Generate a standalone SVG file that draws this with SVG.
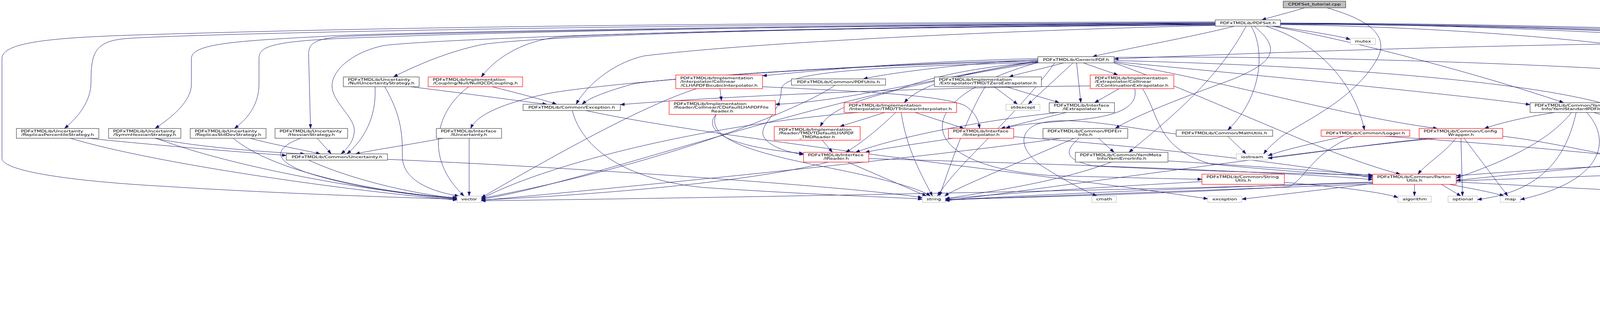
<svg xmlns="http://www.w3.org/2000/svg" width="4934" height="827" viewBox="0 0 4934 827">
<style>
.t{font-family:"DejaVu Sans","Liberation Sans",sans-serif;font-size:9.6px;fill:#000}
.m{text-anchor:middle}
.n{fill:#fff;stroke:#404040;stroke-width:1.2}
.r{fill:#fff;stroke:#ff0000;stroke-width:1.2}
.x{fill:#fff;stroke:#bfbfbf;stroke-width:1.2}
.root{fill:#bfbfbf;stroke:#404040;stroke-width:1.2}
#edges path{fill:none;stroke:#191970;stroke-width:1;marker-end:url(#a)}
</style>
<defs>
<marker id="a" viewBox="0 0 11 8" refX="11" refY="4" markerWidth="11" markerHeight="8" orient="auto" markerUnits="userSpaceOnUse"><path d="M0,0L11,4L0,8z" fill="#191970" stroke="#191970" stroke-width="0.5"/></marker>
</defs>
<rect width="4934" height="827" fill="#fff"/>
<g id="edges">
<path d="M3340,20 C3300,32 3260,42 3230,51"/>
<path d="M3397,20 C3520,55 3560,100 3520,160 C3460,260 3320,320 3280,350 C3262,365 3245,380 3235,394"/>
<path d="M3160,67 C3050,95 2880,125 2797,145"/>
<path d="M3262,67 C3350,80 3420,90 3457,101"/>
<path d="M3278,60 C3700,62 4200,85 4378,101"/>
<path d="M3111,58 C1500,62 450,88 320,99 C240,106 233,140 233,210 C233,260 200,300 165,329"/>
<path d="M3111,56 C1500,59 800,76 400,88 C150,95 5,105 5,150 L5,405 C5,440 200,465 420,477 C700,495 1000,505 1170,510"/>
<path d="M3111,59 C2000,63 900,86 830,93 C600,105 490,112 490,150 L490,215 C490,260 440,300 397,329"/>
<path d="M3111,60 C2000,64 1100,88 1000,94 C700,102 663,115 663,150 L663,215 C663,262 640,300 600,329"/>
<path d="M3111,61 C2000,66 950,86 860,95 C800,102 790,115 790,140 L795,329"/>
<path d="M3111,62 C2000,67 1100,100 980,117 C900,135 850,180 850,220 C850,260 907,300 907,333 C907,360 890,380 873,394"/>
<path d="M3111,63 C2000,70 1400,92 1240,113 C1150,130 1060,170 1007,197"/>
<path d="M3111,64 C2000,72 1500,88 1420,96 C1320,110 1260,160 1232,197"/>
<path d="M3111,65 C2500,80 1900,112 1650,143 C1570,160 1500,220 1475,267"/>
<path d="M3203,67 C3240,130 3230,250 3143,333"/>
<path d="M3190,67 C3120,200 3000,300 2890,390"/>
<path d="M3210,67 C3290,130 3250,165 3150,205 C3000,260 2900,300 2855,329"/>
<path d="M3240,67 C3380,110 3470,220 3493,333"/>
<path d="M3255,67 C3500,110 3850,210 4003,263"/>
<path d="M3278,62 C3800,64 4250,80 4310,95 C4338,108 4340,150 4340,217 C4340,260 4370,300 4393,329"/>
<path d="M3278,63 C3800,70 4240,120 4275,140 C4288,150 4288,200 4288,394"/>
<path d="M3278,61 C4000,64 4600,95 4705,112 C4740,125 4740,150 4740,210 C4740,262 4680,300 4632,329"/>
<path d="M3278,60 C4000,62 4650,92 4760,106 C4792,116 4792,140 4792,200 L4792,329"/>
<path d="M3278,59 C4000,60 4800,90 4885,106 C4913,116 4913,140 4913,200 L4913,300 C4913,340 4880,370 4853,394"/>
<path d="M4378,110 C3800,113 3100,140 2852,151"/>
<path d="M4460,114 L4413,329"/>
<path d="M4466,114 L4593,329"/>
<path d="M4472,114 L4770,329"/>
<path d="M2723,161 C2660,178 2610,188 2583,197"/>
<path d="M2747,161 L2632,267"/>
<path d="M2756,161 L2767,263"/>
<path d="M2773,161 L2862,192"/>
<path d="M2657,153 C2450,163 2260,190 2210,202"/>
<path d="M2657,150 C2300,158 2050,185 1952,194"/>
<path d="M2657,156 C2400,200 2150,262 1985,267"/>
<path d="M2657,158 C2500,180 2360,210 2315,263"/>
<path d="M2657,159 C2400,180 2320,225 2270,238 C2190,258 2120,285 2100,324"/>
<path d="M2657,160 C2200,172 2000,185 2000,230 C2000,290 1940,320 1955,350 C1970,375 2010,388 2057,396"/>
<path d="M2657,157 C2000,170 1500,220 1400,240 C1300,262 1222,290 1205,329"/>
<path d="M2657,154 C2200,165 1700,200 1620,215 C1550,235 1510,250 1490,267"/>
<path d="M2657,161 C2100,240 1500,470 1232,510"/>
<path d="M2700,161 C2600,300 2450,420 2400,502"/>
<path d="M2852,155 C3500,170 4000,220 4150,280 C4250,330 4280,370 4285,394"/>
<path d="M2852,158 C3300,200 3800,250 3917,268"/>
<path d="M2852,160 C3100,200 3450,300 3680,329"/>
<path d="M2852,161 C3100,250 3400,400 3585,446"/>
<path d="M2852,147 C3500,140 4500,180 4800,240 C4960,300 4960,400 4850,450 C4750,490 4650,505 4597,512"/>
<path d="M2657,160 C2300,260 2350,430 2700,450 C2900,455 3000,458 3077,459"/>
<path d="M1843,227 L1847,258"/>
<path d="M1952,222 C2150,232 2400,240 2470,270 C2500,290 2505,310 2508,329"/>
<path d="M1783,227 C1650,270 1450,380 1232,506"/>
<path d="M1833,293 C1800,330 1850,375 2057,393"/>
<path d="M1833,293 C1810,350 1900,385 2100,425 C2250,455 2350,480 2382,502"/>
<path d="M2138,218 C2050,280 1700,420 1232,508"/>
<path d="M2293,288 C2250,330 2200,370 2165,390"/>
<path d="M2265,288 L2150,324"/>
<path d="M2343,288 L2468,329"/>
<path d="M2307,288 C2320,380 2360,450 2387,502"/>
<path d="M2197,288 C1800,320 1400,420 1232,509"/>
<path d="M2105,359 L2131,390"/>
<path d="M2575,222 L2712,263"/>
<path d="M2545,222 L2605,267"/>
<path d="M2522,222 C2480,290 2440,400 2405,502"/>
<path d="M2730,288 L2562,329"/>
<path d="M2710,288 C2500,310 2300,350 2190,390"/>
<path d="M2865,227 L2802,263"/>
<path d="M2791,220 C2300,225 1800,250 1588,268"/>
<path d="M2905,227 C2920,300 2780,305 2700,312 C2620,318 2590,322 2575,329"/>
<path d="M2925,227 C2970,300 2960,380 3100,420 C3300,440 3450,448 3514,452"/>
<path d="M3011,343 C2900,330 2720,290 2650,320 C2610,340 2610,380 2660,420 C2720,460 2780,490 2808,502"/>
<path d="M2440,354 C2350,368 2260,380 2215,390"/>
<path d="M2595,350 C3000,380 3400,432 3514,456"/>
<path d="M2170,415 L2372,502"/>
<path d="M2120,415 C1900,470 1500,500 1232,512"/>
<path d="M2224,406 C2700,420 3300,440 3514,460"/>
<path d="M2812,354 L2852,390"/>
<path d="M2750,354 C2600,420 2450,480 2418,502"/>
<path d="M2716,354 C2400,400 1600,480 1232,513"/>
<path d="M2762,354 C2720,390 2730,410 2800,425 C3100,440 3400,446 3514,448"/>
<path d="M2845,415 C2700,470 2500,495 2420,509"/>
<path d="M2990,412 C3200,425 3450,442 3514,450"/>
<path d="M3143,349 L3190,394"/>
<path d="M3440,349 C3350,370 3280,385 3246,399"/>
<path d="M3465,349 C3360,390 3340,460 3300,478 C3000,496 2600,506 2420,511"/>
<path d="M3545,349 C3800,365 4050,390 4157,400"/>
<path d="M3727,354 C3700,390 3650,420 3630,446"/>
<path d="M3740,354 L3744,502"/>
<path d="M3748,354 L3860,502"/>
<path d="M3680,354 C3300,390 2700,480 2420,514"/>
<path d="M3660,354 C3500,370 3300,400 3246,405"/>
<path d="M3847,349 C3950,360 4100,395 4157,404"/>
<path d="M3980,288 C3900,300 3830,318 3800,329"/>
<path d="M4023,288 C3950,380 3800,430 3728,456"/>
<path d="M4035,288 C4010,400 3950,490 3782,511"/>
<path d="M4062,288 C4120,350 4120,460 3892,511"/>
<path d="M4080,288 C4160,310 4250,360 4280,394"/>
<path d="M4365,354 L4207,394"/>
<path d="M4385,354 L4305,394"/>
<path d="M4425,354 C4500,420 4540,470 4562,502"/>
<path d="M4440,354 C4500,370 4540,385 4570,394"/>
<path d="M4455,354 C4550,375 4650,388 4705,396"/>
<path d="M4470,354 C4600,370 4750,386 4800,396"/>
<path d="M4405,354 C4390,400 4360,415 4300,418 C4000,428 3800,445 3728,450"/>
<path d="M4413,354 C4410,410 4380,440 4300,443 C3800,460 3000,490 2420,512"/>
<path d="M4596,354 L4595,394"/>
<path d="M4630,354 L4718,394"/>
<path d="M4648,354 L4805,394"/>
<path d="M4615,354 C4650,400 4625,460 4580,502"/>
<path d="M4540,354 C4450,370 4380,385 4334,396"/>
<path d="M4530,354 C4400,362 4260,380 4218,396"/>
<path d="M4578,354 C4450,400 4000,432 3728,462"/>
<path d="M4750,354 L4620,394"/>
<path d="M4778,354 L4745,394"/>
<path d="M4800,354 L4825,394"/>
<path d="M4825,354 C4900,380 4920,420 4800,460 C4700,490 4620,505 4597,510"/>
<path d="M4730,354 C4550,366 4400,388 4334,400"/>
<path d="M3621,472 L3621,502"/>
<path d="M3690,472 L3740,502"/>
<path d="M3710,472 C3780,485 3830,495 3850,502"/>
<path d="M3728,466 C4000,480 4400,500 4541,512"/>
<path d="M3514,466 C3100,480 2600,500 2420,513"/>
<path d="M3514,468 C2800,490 1600,510 1232,514"/>
<path d="M3514,470 C3350,490 3220,505 3179,510"/>
<path d="M3077,465 C2800,480 2500,500 2420,510"/>
<path d="M3288,467 C3450,480 3550,495 3579,506"/>
<path d="M1500,283 C1800,350 2700,450 3092,509"/>
<path d="M1465,283 C1490,380 1600,460 1800,480 C2100,500 2300,505 2361,510"/>
<path d="M790,410 C900,460 1050,495 1170,508"/>
<path d="M992,408 C1500,430 2200,480 2361,506"/>
<path d="M225,354 C400,372 600,388 733,398"/>
<path d="M180,354 C400,420 900,490 1170,512"/>
<path d="M395,354 C500,375 650,388 780,394"/>
<path d="M400,354 C600,430 950,490 1170,510"/>
<path d="M640,354 C700,370 780,385 820,394"/>
<path d="M597,354 C700,440 950,490 1170,508"/>
<path d="M812,354 L848,394"/>
<path d="M770,354 C700,380 700,410 780,440 C900,480 1050,500 1170,506"/>
<path d="M960,222 C965,300 930,360 888,394"/>
<path d="M985,222 C1030,300 1030,350 1030,400 C1030,460 1100,490 1175,502"/>
<path d="M1050,222 C1200,240 1300,255 1400,267"/>
<path d="M1260,222 C1330,240 1390,255 1425,267"/>
<path d="M1200,222 C1120,280 1080,400 1188,502"/>
<path d="M1135,354 C1050,370 950,385 910,394"/>
<path d="M1201,354 L1201,502"/>
</g>
<g id="n-cpp"><rect class="root" x="3285" y="3" width="160" height="17"/><text class="t m" transform="matrix(1.34 0 0 1 3365 0)" y="14.5">CPDFSet_tutorial.cpp</text></g>
<g id="n-pdfset"><rect class="n" x="3111" y="51" width="167" height="16"/><text class="t m" transform="matrix(1.34 0 0 1 3194.5 0)" y="62.5">PDFxTMDLib/PDFSet.h</text></g>
<g id="n-mutex"><rect class="x" x="3457" y="98" width="64" height="16"/><text class="t m" transform="matrix(1.34 0 0 1 3489 0)" y="109.5">mutex</text></g>
<g id="n-factory"><rect class="n" x="4378" y="98" width="167" height="16"/><text class="t m" transform="matrix(1.34 0 0 1 4461.5 0)" y="109.5">PDFxTMDLib/Factory.h</text></g>
<g id="n-generic"><rect class="n" x="2657" y="145" width="195" height="16"/><text class="t m" transform="matrix(1.34 0 0 1 2754.5 0)" y="156.5">PDFxTMDLib/GenericPDF.h</text></g>
<g id="n-nullunc"><rect class="n" x="879" y="197" width="194" height="25"/><text class="t" transform="matrix(1.34 0 0 1 890.5 0)" y="207.5">PDFxTMDLib/Uncertainty</text><text class="t m" transform="matrix(1.34 0 0 1 976 0)" y="216.5">/NullUncertaintyStrategy.h</text></g>
<g id="n-nullqcd"><rect class="r" x="1096" y="197" width="242" height="25"/><text class="t" transform="matrix(1.34 0 0 1 1107.5 0)" y="207.5">PDFxTMDLib/Implementation</text><text class="t m" transform="matrix(1.34 0 0 1 1217 0)" y="216.5">/Coupling/Null/NullQCDCoupling.h</text></g>
<g id="n-exception"><rect class="n" x="1339" y="267" width="249" height="16"/><text class="t m" transform="matrix(1.34 0 0 1 1463.5 0)" y="278.5">PDFxTMDLib/Common/Exception.h</text></g>
<g id="n-clhapdf"><rect class="r" x="1730" y="192" width="222" height="35"/><text class="t" transform="matrix(1.34 0 0 1 1741.5 0)" y="203.5">PDFxTMDLib/Implementation</text><text class="t" transform="matrix(1.34 0 0 1 1741.5 0)" y="212.5">/Interpolator/Collinear</text><text class="t m" transform="matrix(1.34 0 0 1 1841 0)" y="221.6">/CLHAPDFBicubicInterpolator.h</text></g>
<g id="n-cdefault"><rect class="r" x="1713" y="258" width="272" height="35"/><text class="t" transform="matrix(1.34 0 0 1 1724.5 0)" y="269.5">PDFxTMDLib/Implementation</text><text class="t" transform="matrix(1.34 0 0 1 1724.5 0)" y="278.5">/Reader/Collinear/CDefaultLHAPDFFile</text><text class="t m" transform="matrix(1.34 0 0 1 1849 0)" y="287.6">Reader.h</text></g>
<g id="n-pdfutils"><rect class="n" x="2026" y="202" width="241" height="16"/><text class="t m" transform="matrix(1.34 0 0 1 2146.5 0)" y="213.5">PDFxTMDLib/Common/PDFUtils.h</text></g>
<g id="n-tzero"><rect class="n" x="2392" y="197" width="274" height="25"/><text class="t" transform="matrix(1.34 0 0 1 2403.5 0)" y="207.5">PDFxTMDLib/Implementation</text><text class="t m" transform="matrix(1.34 0 0 1 2529 0)" y="216.5">/Extrapolator/TMD/TZeroExtrapolator.h</text></g>
<g id="n-ttri"><rect class="r" x="2161" y="263" width="288" height="25"/><text class="t" transform="matrix(1.34 0 0 1 2172.5 0)" y="273.5">PDFxTMDLib/Implementation</text><text class="t m" transform="matrix(1.34 0 0 1 2305 0)" y="282.5">/Interpolator/TMD/TTrilinearInterpolator.h</text></g>
<g id="n-tdefault"><rect class="r" x="1982" y="324" width="220" height="35"/><text class="t" transform="matrix(1.34 0 0 1 1993.5 0)" y="335.5">PDFxTMDLib/Implementation</text><text class="t" transform="matrix(1.34 0 0 1 1993.5 0)" y="344.5">/Reader/TMD/TDefaultLHAPDF</text><text class="t m" transform="matrix(1.34 0 0 1 2092 0)" y="353.6">_TMDReader.h</text></g>
<g id="n-ireader"><rect class="r" x="2057" y="390" width="167" height="25"/><text class="t" transform="matrix(1.34 0 0 1 2068.5 0)" y="400.5">PDFxTMDLib/Interface</text><text class="t m" transform="matrix(1.34 0 0 1 2140.5 0)" y="409.5">/IReader.h</text></g>
<g id="n-stdexcept"><rect class="x" x="2575" y="267" width="87" height="16"/><text class="t m" transform="matrix(1.34 0 0 1 2618.5 0)" y="278.5">stdexcept</text></g>
<g id="n-iextrap"><rect class="n" x="2686" y="263" width="167" height="25"/><text class="t" transform="matrix(1.34 0 0 1 2697.5 0)" y="273.5">PDFxTMDLib/Interface</text><text class="t m" transform="matrix(1.34 0 0 1 2769.5 0)" y="282.5">/IExtrapolator.h</text></g>
<g id="n-ccont"><rect class="r" x="2791" y="192" width="214" height="35"/><text class="t" transform="matrix(1.34 0 0 1 2802.5 0)" y="203.5">PDFxTMDLib/Implementation</text><text class="t" transform="matrix(1.34 0 0 1 2802.5 0)" y="212.5">/Extrapolator/Collinear</text><text class="t m" transform="matrix(1.34 0 0 1 2898 0)" y="221.6">/CContinuationExtrapolator.h</text></g>
<g id="n-iinterp"><rect class="r" x="2428" y="329" width="167" height="25"/><text class="t" transform="matrix(1.34 0 0 1 2439.5 0)" y="339.5">PDFxTMDLib/Interface</text><text class="t m" transform="matrix(1.34 0 0 1 2511.5 0)" y="348.5">/IInterpolator.h</text></g>
<g id="n-pdferr"><rect class="n" x="2670" y="329" width="217" height="25"/><text class="t" transform="matrix(1.34 0 0 1 2681.5 0)" y="339.5">PDFxTMDLib/Common/PDFErr</text><text class="t m" transform="matrix(1.34 0 0 1 2778.5 0)" y="348.5">Info.h</text></g>
<g id="n-yamlerr"><rect class="n" x="2753" y="390" width="237" height="25"/><text class="t" transform="matrix(1.34 0 0 1 2764.5 0)" y="400.5">PDFxTMDLib/Common/YamlMeta</text><text class="t m" transform="matrix(1.34 0 0 1 2871.5 0)" y="409.5">Info/YamlErrorInfo.h</text></g>
<g id="n-mathutils"><rect class="n" x="3011" y="333" width="247" height="16"/><text class="t m" transform="matrix(1.34 0 0 1 3134.5 0)" y="344.5">PDFxTMDLib/Common/MathUtils.h</text></g>
<g id="n-iostream"><rect class="x" x="3165" y="394" width="81" height="16"/><text class="t m" transform="matrix(1.34 0 0 1 3205.5 0)" y="405.5">iostream</text></g>
<g id="n-stringutils"><rect class="r" x="3077" y="446" width="211" height="26"/><text class="t" transform="matrix(1.34 0 0 1 3088.5 0)" y="456.5">PDFxTMDLib/Common/String</text><text class="t m" transform="matrix(1.34 0 0 1 3182.5 0)" y="465.5">Utils.h</text></g>
<g id="n-exceptionstd"><rect class="x" x="3092" y="502" width="87" height="16"/><text class="t m" transform="matrix(1.34 0 0 1 3135.5 0)" y="513.5">exception</text></g>
<g id="n-logger"><rect class="r" x="3382" y="333" width="227" height="16"/><text class="t m" transform="matrix(1.34 0 0 1 3495.5 0)" y="344.5">PDFxTMDLib/Common/Logger.h</text></g>
<g id="n-config"><rect class="r" x="3633" y="329" width="214" height="25"/><text class="t" transform="matrix(1.34 0 0 1 3644.5 0)" y="339.5">PDFxTMDLib/Common/Config</text><text class="t m" transform="matrix(1.34 0 0 1 3740 0)" y="348.5">Wrapper.h</text></g>
<g id="n-parton"><rect class="r" x="3514" y="446" width="214" height="26"/><text class="t" transform="matrix(1.34 0 0 1 3525.5 0)" y="456.5">PDFxTMDLib/Common/Parton</text><text class="t m" transform="matrix(1.34 0 0 1 3621 0)" y="465.5">Utils.h</text></g>
<g id="n-algorithm"><rect class="x" x="3579" y="502" width="85" height="16"/><text class="t m" transform="matrix(1.34 0 0 1 3621.5 0)" y="513.5">algorithm</text></g>
<g id="n-optional"><rect class="x" x="3707" y="502" width="75" height="16"/><text class="t m" transform="matrix(1.34 0 0 1 3744.5 0)" y="513.5">optional</text></g>
<g id="n-map"><rect class="x" x="3841" y="502" width="51" height="16"/><text class="t m" transform="matrix(1.34 0 0 1 3866.5 0)" y="513.5">map</text></g>
<g id="n-yamlstd"><rect class="n" x="3917" y="263" width="237" height="25"/><text class="t" transform="matrix(1.34 0 0 1 3928.5 0)" y="273.5">PDFxTMDLib/Common/YamlMeta</text><text class="t m" transform="matrix(1.34 0 0 1 4035.5 0)" y="282.5">Info/YamlStandardPDFInfo.h</text></g>
<g id="n-utility"><rect class="x" x="4157" y="394" width="61" height="16"/><text class="t m" transform="matrix(1.34 0 0 1 4187.5 0)" y="405.5">utility</text></g>
<g id="n-typetraits"><rect class="x" x="4242" y="394" width="92" height="16"/><text class="t m" transform="matrix(1.34 0 0 1 4288 0)" y="405.5">type_traits</text></g>
<g id="n-itmd"><rect class="n" x="4327" y="329" width="167" height="25"/><text class="t" transform="matrix(1.34 0 0 1 4338.5 0)" y="339.5">PDFxTMDLib/Interface</text><text class="t m" transform="matrix(1.34 0 0 1 4410.5 0)" y="348.5">/ITMD.h</text></g>
<g id="n-icpdf"><rect class="n" x="4517" y="329" width="167" height="25"/><text class="t" transform="matrix(1.34 0 0 1 4528.5 0)" y="339.5">PDFxTMDLib/Interface</text><text class="t m" transform="matrix(1.34 0 0 1 4600.5 0)" y="348.5">/ICPDF.h</text></g>
<g id="n-iqcd"><rect class="n" x="4708" y="329" width="168" height="25"/><text class="t" transform="matrix(1.34 0 0 1 4719.5 0)" y="339.5">PDFxTMDLib/Interface</text><text class="t m" transform="matrix(1.34 0 0 1 4792 0)" y="348.5">/IQCDCoupling.h</text></g>
<g id="n-cstdlib"><rect class="x" x="4562" y="394" width="65" height="16"/><text class="t m" transform="matrix(1.34 0 0 1 4594.5 0)" y="405.5">cstdlib</text></g>
<g id="n-cstddef"><rect class="x" x="4703" y="394" width="71" height="16"/><text class="t m" transform="matrix(1.34 0 0 1 4738.5 0)" y="405.5">cstddef</text></g>
<g id="n-memory"><rect class="x" x="4798" y="394" width="78" height="16"/><text class="t m" transform="matrix(1.34 0 0 1 4837 0)" y="405.5">memory</text></g>
<g id="n-array"><rect class="x" x="4541" y="502" width="56" height="16"/><text class="t m" transform="matrix(1.34 0 0 1 4569 0)" y="513.5">array</text></g>
<g id="n-vector"><rect class="x" x="1170" y="502" width="62" height="16"/><text class="t m" transform="matrix(1.34 0 0 1 1201 0)" y="513.5">vector</text></g>
<g id="n-string"><rect class="x" x="2361" y="502" width="59" height="16"/><text class="t m" transform="matrix(1.34 0 0 1 2390.5 0)" y="513.5">string</text></g>
<g id="n-cmath"><rect class="x" x="2795" y="502" width="63" height="16"/><text class="t m" transform="matrix(1.34 0 0 1 2826.5 0)" y="513.5">cmath</text></g>
<g id="n-replperc"><rect class="n" x="42" y="329" width="211" height="25"/><text class="t" transform="matrix(1.34 0 0 1 53.5 0)" y="339.5">PDFxTMDLib/Uncertainty</text><text class="t m" transform="matrix(1.34 0 0 1 147.5 0)" y="348.5">/ReplicasPercentileStrategy.h</text></g>
<g id="n-symmhess"><rect class="n" x="278" y="329" width="185" height="25"/><text class="t" transform="matrix(1.34 0 0 1 289.5 0)" y="339.5">PDFxTMDLib/Uncertainty</text><text class="t m" transform="matrix(1.34 0 0 1 370.5 0)" y="348.5">/SymmHessianStrategy.h</text></g>
<g id="n-repstd"><rect class="n" x="487" y="329" width="194" height="25"/><text class="t" transform="matrix(1.34 0 0 1 498.5 0)" y="339.5">PDFxTMDLib/Uncertainty</text><text class="t m" transform="matrix(1.34 0 0 1 584 0)" y="348.5">/ReplicasStdDevStrategy.h</text></g>
<g id="n-hessian"><rect class="n" x="704" y="329" width="186" height="25"/><text class="t" transform="matrix(1.34 0 0 1 715.5 0)" y="339.5">PDFxTMDLib/Uncertainty</text><text class="t m" transform="matrix(1.34 0 0 1 797 0)" y="348.5">/HessianStrategy.h</text></g>
<g id="n-uncert"><rect class="n" x="733" y="394" width="259" height="16"/><text class="t m" transform="matrix(1.34 0 0 1 862.5 0)" y="405.5">PDFxTMDLib/Common/Uncertainty.h</text></g>
<g id="n-iunc"><rect class="n" x="1117" y="329" width="167" height="25"/><text class="t" transform="matrix(1.34 0 0 1 1128.5 0)" y="339.5">PDFxTMDLib/Interface</text><text class="t m" transform="matrix(1.34 0 0 1 1200.5 0)" y="348.5">/IUncertainty.h</text></g>
</svg>
